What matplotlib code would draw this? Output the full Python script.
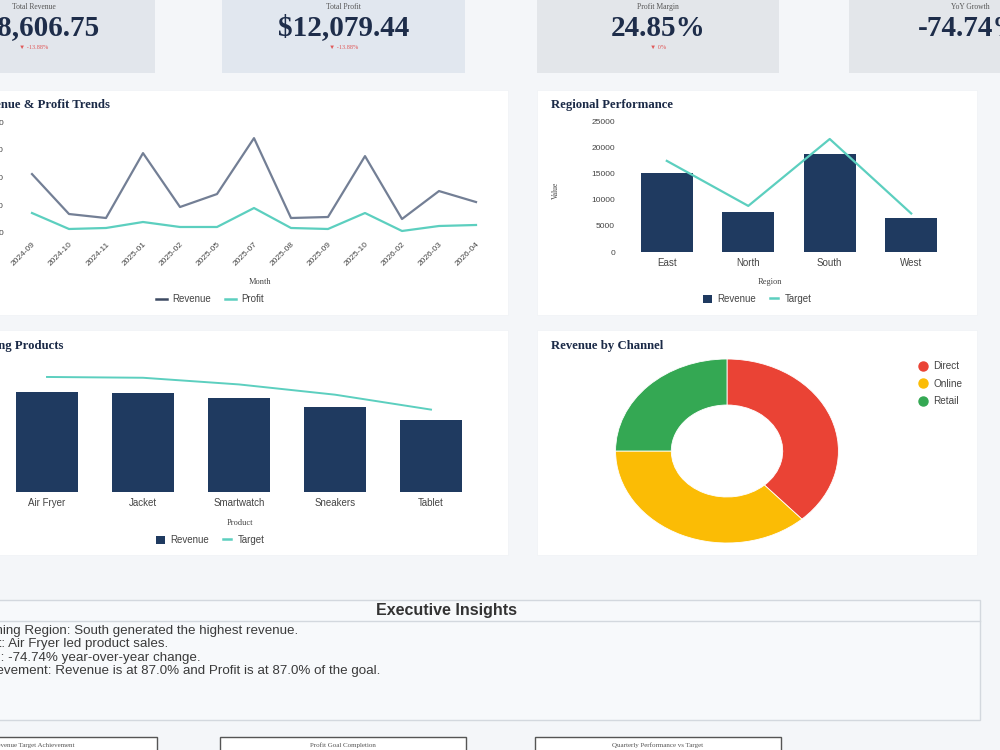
import matplotlib
matplotlib.use('Agg')
import matplotlib.pyplot as plt
from matplotlib.patches import Rectangle, Patch
from matplotlib.lines import Line2D

plt.rcParams['font.family'] = ['Liberation Sans', 'DejaVu Sans']

# ---------------- data ----------------
kpi_titles = ['Total Revenue', 'Total Profit', 'Profit Margin', 'YoY Growth']
kpi_values = ['$48,606.75', '$12,079.44', '24.85%', '-74.74%']
kpi_deltas = ['\u25bc -13.88%', '\u25bc -13.88%', '\u25bc 0%', '']

months = ['2024-09', '2024-10', '2024-11', '2025-01', '2025-02', '2025-05', '2025-07',
          '2025-08', '2025-09', '2025-10', '2026-02', '2026-03', '2026-04']
revenue_monthly = [5310, 1710, 1350, 7200, 2340, 3510, 8550, 1350, 1440, 6930, 1260, 3780, 2790]
profit_monthly = [1800, 360, 450, 990, 540, 540, 2250, 450, 360, 1800, 180, 630, 720]
trend_yticks = [0, 2500, 5000, 7500, 10000]

regions = ['East', 'North', 'South', 'West']
region_revenue = [15200, 7700, 18850, 6550]
region_target = [17500, 8850, 21700, 7400]
region_yticks = [0, 5000, 10000, 15000, 20000, 25000]

products = ['Air Fryer', 'Jacket', 'Smartwatch', 'Sneakers', 'Tablet']
product_revenue = [10050, 9980, 9400, 8500, 7200]
product_target = [11560, 11480, 10810, 9780, 8280]

channels = ['Direct', 'Online', 'Retail']
channel_revenue = [18600, 17850, 12150]
channel_colors = ['#ea4335', '#fbbc05', '#34a853']

insights = [
    'Top Performing Region: South generated the highest revenue.',
    'Top Product: Air Fryer led product sales.',
    'YoY Growth: -74.74% year-over-year change.',
    'Target Achievement: Revenue is at 87.0% and Profit is at 87.0% of the goal.',
]
gauge_titles = ['Revenue Target Achievement', 'Profit Goal Completion', 'Quarterly Performance vs Target']

# ---------------- styles ----------------
NAVY = '#1f3a60'
TEAL = '#5ccfbf'
REV_LINE = '#737f95'
TITLE_C = '#1b2a47'
TICK_C = '#444444'
SERIF = ['Liberation Serif', 'DejaVu Serif']

W, H = 1000, 750
fig = plt.figure(figsize=(10, 7.5), dpi=100)
fig.patch.set_facecolor('#f4f6f9')


def box(x0, y0, x1, y1):
    return [x0 / W, 1 - y1 / H, (x1 - x0) / W, (y1 - y0) / H]


bg = fig.add_axes([0, 0, 1, 1], zorder=-1)
bg.set_xlim(0, W)
bg.set_ylim(H, 0)
bg.axis('off')

# ---------------- KPI cards ----------------
card_x = [(-88, 155), (222, 465), (537, 779), (849, 1092)]
card_fc = ['#e2e6ec', '#e1e7ef', '#e3e6ea', '#e3e6ea']
for (x0, x1), fc, t, v, d in zip(card_x, card_fc, kpi_titles, kpi_values, kpi_deltas):
    bg.add_patch(Rectangle((x0, -20), x1 - x0, 93, facecolor=fc, edgecolor='none'))
    cx = (x0 + x1) / 2
    bg.text(cx, 7, t, ha='center', va='center', fontsize=5.5, color='#555555', family=SERIF)
    bg.text(cx, 28, v, ha='center', va='center', fontsize=21, fontweight='bold',
            color='#1e2d4a', family=SERIF)
    if d:
        bg.text(cx, 47, d, ha='center', va='center', fontsize=4.5, color='#e05a5a',
                family=['Liberation Serif', 'DejaVu Sans'])

# ---------------- panels ----------------
for (x0, y0, x1, y1) in [(-37, 90, 508, 315), (537, 90, 977, 315),
                         (-37, 330, 508, 555), (537, 330, 977, 555)]:
    bg.add_patch(Rectangle((x0, y0), x1 - x0, y1 - y0, facecolor='white', edgecolor='#f0f2f5', lw=0.5))

bg.text(110, 105, 'Revenue & Profit Trends', ha='right', va='center', fontsize=9.2,
        fontweight='bold', color=TITLE_C, family=SERIF)
bg.text(551, 105, 'Regional Performance', ha='left', va='center', fontsize=9.2,
        fontweight='bold', color=TITLE_C, family=SERIF)
bg.text(63, 346, 'Top Selling Products', ha='right', va='center', fontsize=9.2,
        fontweight='bold', color=TITLE_C, family=SERIF)
bg.text(551, 346, 'Revenue by Channel', ha='left', va='center', fontsize=9.2,
        fontweight='bold', color=TITLE_C, family=SERIF)


def clean(ax):
    ax.set_facecolor('none')
    for s in ax.spines.values():
        s.set_visible(False)


# ---------------- trend line chart ----------------
ax1 = fig.add_axes(box(13.5, 116.5, 494.5, 235.2))
clean(ax1)
x = list(range(len(months)))
ax1.plot(x, revenue_monthly, color=REV_LINE, lw=1.6, label='Revenue')
ax1.plot(x, profit_monthly, color=TEAL, lw=1.6, label='Profit')
ax1.set_xlim(-0.5, len(months) - 0.5)
ax1.set_ylim(-200, 10500)
ax1.set_yticks(trend_yticks)
ax1.set_yticklabels([str(v) for v in trend_yticks], fontsize=6, color=TICK_C)
ax1.set_xticks(x)
ax1.set_xticklabels(months, rotation=45, ha='right', rotation_mode='anchor', fontsize=6, color=TICK_C)
ax1.tick_params(length=0, pad=7)
ax1.tick_params(axis='x', pad=4)
bg.text(260, 282, 'Month', ha='center', va='center', fontsize=6, color='#444444', family=SERIF)
h1 = [Line2D([], [], color='#3d4a62', lw=1.8), Line2D([], [], color=TEAL, lw=1.8)]
fig.legend(h1, ['Revenue', 'Profit'], loc='center', bbox_to_anchor=(210 / W, 1 - 299 / H),
           ncol=2, frameon=False, fontsize=7, handlelength=1.1, handletextpad=0.6,
           columnspacing=1.4, labelcolor='#444444')

# ---------------- regional performance ----------------
ax2 = fig.add_axes(box(622, 114, 956, 252))
clean(ax2)
xr = list(range(len(regions)))
ax2.bar(xr, region_revenue, width=0.64, color=NAVY, label='Revenue')
ax2.plot(xr, region_target, color=TEAL, lw=1.6, label='Target')
ax2.set_xlim(-0.55, 3.55)
ax2.set_ylim(0, 26500)
ax2.set_yticks(region_yticks)
ax2.set_yticklabels([str(v) for v in region_yticks], fontsize=6, color=TICK_C)
ax2.set_xticks(xr)
ax2.set_xticklabels(regions, fontsize=7, color=TICK_C)
ax2.tick_params(length=0, pad=5)
ax2.tick_params(axis='x', pad=4)
bg.text(556, 190, 'Value', ha='center', va='center', rotation=90, fontsize=5.5,
        color='#444444', family=SERIF)
bg.text(770, 282, 'Region', ha='center', va='center', fontsize=6, color='#444444', family=SERIF)
h2 = [Patch(facecolor=NAVY), Line2D([], [], color=TEAL, lw=1.8)]
fig.legend(h2, ['Revenue', 'Target'], loc='center', bbox_to_anchor=(757 / W, 1 - 299 / H),
           ncol=2, frameon=False, fontsize=7, handlelength=0.9, handleheight=0.9,
           handletextpad=0.6, columnspacing=1.4, labelcolor='#444444')

# ---------------- top products ----------------
ax3 = fig.add_axes(box(-1, 370, 479, 492))
clean(ax3)
xp = list(range(len(products)))
ax3.bar(xp, product_revenue, width=0.65, color=NAVY, label='Revenue')
ax3.plot(xp, product_target, color=TEAL, lw=1.4, label='Target')
ax3.set_xlim(-0.5, 4.5)
ax3.set_ylim(0, 12260)
ax3.set_yticks([])
ax3.set_xticks(xp)
ax3.set_xticklabels(products, fontsize=7, color=TICK_C)
ax3.tick_params(length=0, pad=4)
bg.text(240, 523, 'Product', ha='center', va='center', fontsize=6, color='#444444', family=SERIF)
fig.legend(h2, ['Revenue', 'Target'], loc='center', bbox_to_anchor=(210 / W, 1 - 540 / H),
           ncol=2, frameon=False, fontsize=7, handlelength=0.9, handleheight=0.9,
           handletextpad=0.6, columnspacing=1.4, labelcolor='#444444')

# ---------------- donut ----------------
ax4 = fig.add_axes(box(610, 354.4, 844, 547.6))
ax4.pie(channel_revenue, colors=channel_colors, startangle=90, counterclock=False,
        wedgeprops=dict(width=0.5, edgecolor='white', linewidth=0.6))
ax4.set_aspect('auto')
ax4.set_xlim(-1.05, 1.05)
ax4.set_ylim(-1.05, 1.05)
ax4.axis('off')
h4 = [Line2D([], [], marker='o', linestyle='', markersize=6.5, color=c) for c in channel_colors]
fig.legend(h4, channels, loc='upper left', bbox_to_anchor=(910 / W, 1 - 352 / H),
           frameon=False, fontsize=7.2, handlelength=0.8, handletextpad=0.6,
           labelspacing=0.75, labelcolor='#444444')

# ---------------- executive insights ----------------
bg.add_patch(Rectangle((-88, 600), 1068, 120, facecolor='#f7f9fb', edgecolor='#d3d8de', lw=1))
bg.plot([-88, 980], [621, 621], color='#d3d8de', lw=1)
bg.text(446, 611, 'Executive Insights', ha='center', va='center', fontsize=11.5,
        fontweight='bold', color='#333333')
for i, line in enumerate(insights):
    bg.text(-70, 631 + i * 13.3, line, ha='left', va='center', fontsize=9.6, color='#3a3a3a')

# ---------------- bottom gauge boxes ----------------
for (x0, x1), t in zip([(-89, 157), (220, 466), (535, 781)], gauge_titles):
    bg.add_patch(Rectangle((x0, 737), x1 - x0, 30, facecolor='white', edgecolor='#555555', lw=1))
    bg.text((x0 + x1) / 2, 745.5, t, ha='center', va='center', fontsize=5, color='#555555', family=SERIF)

fig.savefig('out.png', dpi=100, facecolor=fig.get_facecolor())
